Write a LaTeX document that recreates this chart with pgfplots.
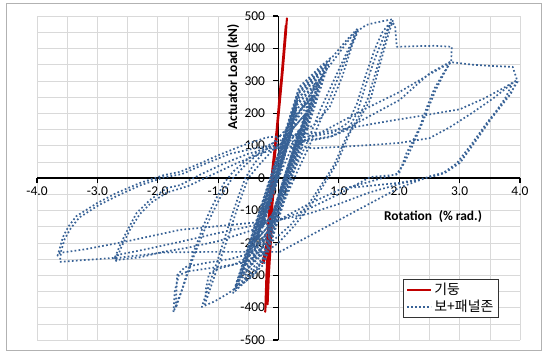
\documentclass[border=0pt]{standalone}
\usepackage{fontspec}
\setmainfont{Carlito}
\newfontfamily\kr{Noto Sans CJK KR}
\usepackage{pgfplots}
\pgfplotsset{compat=1.18}
\definecolor{bluez}{RGB}{56,98,150}
\definecolor{redz}{RGB}{192,0,0}
\definecolor{gridz}{RGB}{217,217,217}
\begin{document}
\begin{tikzpicture}
\useasboundingbox (0bp,0bp) rectangle (543bp,353bp);
\draw[black!30, line width=0.8bp] (6bp,3bp) rectangle (541bp,350bp);
\begin{axis}[
  at={(37bp,13bp)}, anchor=south west,
  scale only axis, width=483bp, height=324bp,
  xmin=-4, xmax=4, ymin=-500, ymax=500,
  axis lines=middle,
  axis line style={line width=1.6bp, -},
  hide obscured x ticks=false, hide obscured y ticks=false,
  xtick={-4,-3,-2,-1,0,1,2,3,4},
  xticklabels={-4.0,-3.0,-2.0,-1.0,0.0,1.0,2.0,3.0,4.0},
  ytick={-500,-400,-300,-200,-100,0,100,200,300,400,500},
  yticklabels={-500,-400,-300,-200,-100,0,100,200,300,400,500},
  minor x tick num=1, minor y tick num=1,
  grid=both, grid style={gridz, line width=0.6bp},
  major tick length=5bp, minor tick length=0pt,
  tick align=outside, tick style={black, line width=1.2bp},
  ticklabel style={font=\fontsize{13.5}{13.5}\selectfont},
  yticklabel style={xshift=-5bp},
  legend style={at={(0.758,0.188)}, anchor=north west, draw=black!80, line width=0.6bp,
    font=\kr\fontsize{14}{17}\selectfont, inner xsep=3bp, inner ysep=2bp, row sep=0bp},
  legend cell align=left,
  legend image code/.code={\draw[#1] (0bp,0bp) -- (24bp,0bp);},
]
% column (red)
\addplot[color=redz, line width=2bp, line join=round, mark=none] coordinates {
(-0.10,0) (-0.05,100) (0.00,200) (-0.03,150) (-0.08,50) (-0.14,-50) (-0.17,-150) (-0.14,-100) (-0.10,0)
(-0.04,100) (0.02,250) (0.06,330) (0.03,280) (-0.03,150) (-0.10,30) (-0.15,-80) (-0.19,-200) (-0.24,-260) (-0.27,-262) (-0.21,-220) (-0.15,-120) (-0.12,-20)
(-0.06,90) (0.02,250) (0.08,370) (0.12,450) (0.14,493) (0.12,440) (0.07,330) (0.01,210) (-0.06,80) (-0.12,-30) (-0.16,-150) (-0.20,-300) (-0.22,-413) (-0.20,-360) (-0.16,-220) (-0.13,-100) (-0.10,0)
(-0.04,120) (0.03,270) (0.08,380) (0.12,470) (0.10,420) (0.05,300) (-0.02,160) (-0.09,30) (-0.14,-90) (-0.18,-250) (-0.18,-390) (-0.16,-300) (-0.12,-180) (-0.10,-80) (-0.06,0)
};
\addlegendentry{기둥}
% beam + panel zone (blue dotted)
\addplot[color=bluez, line width=1.7bp, line cap=butt, line join=round, dash pattern=on 1.7bp off 2.3bp, mark=none] coordinates {
(0,0) (0.35,150)
(0.09,0) (-0.10,-112) (-0.27,-150) (-0.01,0) (0.18,112) (0.35,150)
(0.09,0) (-0.10,-112) (-0.27,-150) (-0.01,0) (0.229,150) (0.455,200)
(0.11,0) (-0.136,-142) (-0.358,-190) (-0.03,0) (0.229,150) (0.455,200)
(0.11,0) (-0.136,-142) (-0.358,-190) (-0.03,0) (0.257,172) (0.517,230)
(0.12,0) (-0.158,-161) (-0.411,-215) (-0.04,0) (0.273,187) (0.561,250)
(0.13,0) (-0.167,-172) (-0.447,-230) (-0.05,0) (0.27,191) (0.58,255)
(0.14,0) (-0.17,-180) (-0.474,-240) (-0.06,0) (0.292,210) (0.633,280)
(0.15,0) (-0.186,-195) (-0.518,-260) (-0.07,0) (0.375,217) (0.66,290)
(0.16,0) (-0.163,-187) (-0.431,-250) (0.00,0) (0.308,225) (0.677,300)
(0.16,0) (-0.189,-202) (-0.546,-270) (-0.08,0) (0.311,232) (0.704,310)
(0.17,0) (-0.199,-214) (-0.581,-285) (-0.09,0) (0.314,240) (0.652,320)
(0.10,0) (-0.301,-232) (-0.634,-310) (-0.10,0) (0.327,247) (0.749,330)
(0.18,0) (-0.208,-225) (-0.617,-300) (-0.10,0) (0.326,259) (0.795,345)
(0.20,0) (-0.214,-240) (-0.672,-320) (-0.12,0) (0.338,277) (0.858,370)
(0.22,0) (-0.239,-266) (-0.752,-355) (-0.14,0) (0.356,270) (0.811,360)
(0.19,0) (-0.25,-255) (-0.696,-340) (-0.11,0) (0.325,264) (0.817,352)
(0.21,0) (-0.224,-252) (-0.709,-336) (-0.13,0) (0.34,280) (0.70,345) (0.90,375) (1.13,426) (1.32,463)
(1.02,343) (0.69,210) (0.47,108) (0.24,15) (0.05,-90) (-0.13,-200) (-0.40,-300) (-0.85,-358) (-1.05,-380) (-1.27,-398)
(-1.15,-330) (-1.02,-260) (-0.90,-190) (-0.78,-120) (-0.66,-55) (-0.55,0)
(-0.40,45) (-0.20,90) (0.00,125) (0.20,165) (0.40,220) (0.60,280) (0.80,335) (1.00,385) (1.18,430) (1.30,455)
(1.10,360) (0.90,270) (0.70,180) (0.50,95) (0.30,15)
(0.10,-70) (-0.10,-140) (-0.30,-200) (-0.50,-245) (-0.75,-268) (-1.00,-280) (-1.15,-295) (-1.20,-340) (-1.22,-390)
(-1.10,-325) (-0.97,-255) (-0.84,-185) (-0.72,-115) (-0.60,-50) (-0.50,0)
(-0.30,45) (-0.10,85) (0.10,115) (0.35,140) (0.60,165) (0.85,220) (1.05,310) (1.22,410) (1.32,455) (1.45,472) (1.57,478) (1.75,485) (1.90,490)
(1.80,430) (1.65,330) (1.52,241) (1.35,185) (1.18,139) (0.97,46) (0.80,-6)
(0.55,-80) (0.25,-150) (0.00,-200) (-0.30,-240) (-0.60,-262) (-0.90,-272) (-1.20,-280) (-1.50,-288) (-1.65,-300) (-1.72,-350) (-1.74,-414)
(-1.60,-345) (-1.41,-232) (-1.25,-150) (-1.13,-99) (-1.02,-59) (-0.90,-15) (-0.75,20)
(-0.50,60) (-0.25,95) (0.00,115) (0.30,125) (0.60,130) (0.90,140) (1.15,170) (1.30,230) (1.45,320) (1.60,400) (1.72,450) (1.85,480)
(1.75,415) (1.60,320) (1.47,240) (1.30,180) (1.12,125) (0.92,40) (0.75,-10)
(0.50,-80) (0.20,-145) (-0.10,-195) (-0.40,-230) (-0.80,-250) (-1.20,-262) (-1.55,-275) (-1.68,-300) (-1.70,-401)
(-1.55,-320) (-1.40,-240) (-1.25,-170) (-1.10,-110) (-0.95,-55) (-0.80,-10)
(-0.55,40) (-0.30,80) (0.00,105) (0.30,115) (0.60,120) (0.90,130) (1.15,150) (1.30,200) (1.45,290) (1.60,370) (1.75,440) (1.88,482) (1.93,470) (1.96,405) (2.30,407) (2.60,408) (2.87,405) (2.86,360)
(2.72,320) (2.58,275) (2.45,215) (2.34,157) (2.20,105) (2.12,77) (2.00,15) (1.50,-12) (1.00,-37) (0.50,-80) (0.00,-130)
(-0.50,-150) (-1.00,-170) (-1.63,-197) (-2.20,-220) (-2.68,-238) (-2.72,-250)
(-2.62,-205) (-2.50,-160) (-2.35,-108) (-2.13,-68) (-1.85,-31) (-1.63,-22) (-1.30,10) (-0.90,45) (-0.50,75) (-0.20,90) (0.24,96)
(0.80,150) (1.40,210) (2.00,265) (2.50,320) (2.84,355)
(2.72,315) (2.60,270) (2.48,215) (2.36,160) (2.22,100) (2.08,45) (1.95,10) (1.52,3) (1.00,-50) (0.50,-95) (0.02,-130)
(-0.50,-165) (-1.00,-195) (-1.50,-215) (-1.91,-228) (-2.30,-245) (-2.68,-253) (-2.70,-258)
(-2.60,-212) (-2.46,-160) (-2.30,-112) (-2.10,-75) (-1.85,-45) (-1.50,-25) (-1.10,10) (-0.70,45) (-0.30,75) (0.20,105) (0.85,126)
(1.40,180) (2.00,240) (2.51,324) (2.84,358) (3.20,350) (3.50,346) (3.88,343) (3.96,297)
(3.80,250) (3.65,215) (3.50,179) (3.25,110) (3.00,46) (2.75,15) (2.50,3) (2.07,-15) (1.50,-45) (1.00,-80) (0.50,-110) (0.00,-130)
(-0.80,-145) (-1.63,-160) (-2.50,-195) (-3.20,-220) (-3.62,-231) (-3.66,-240)
(-3.62,-215) (-3.57,-182) (-3.48,-150) (-3.35,-118) (-3.00,-77) (-2.68,-46) (-2.29,-15) (-1.90,9) (-1.63,19) (-1.30,45) (-1.00,70) (-0.60,100) (-0.20,125) (0.64,139)
(1.20,155) (1.80,175) (2.40,193) (3.00,212) (3.40,245) (3.70,275) (3.95,302)
(3.85,260) (3.70,225) (3.52,182) (3.27,115) (3.02,50) (2.77,18) (2.52,6) (2.00,-30) (1.50,-80) (1.00,-130) (0.50,-180) (0.02,-228)
(-0.60,-228) (-1.20,-228) (-1.91,-230) (-2.60,-245) (-3.20,-253) (-3.62,-259)
(-3.60,-225) (-3.54,-188) (-3.44,-155) (-3.30,-122) (-2.98,-84) (-2.65,-53) (-2.28,-22) (-1.90,2) (-1.60,12) (-1.20,45) (-0.80,75) (-0.30,95) (0.10,98) (0.60,92)
(1.20,98) (2.00,108) (2.50,123) (2.84,157) (3.20,200) (3.55,245) (3.88,293)
(3.75,245) (3.60,205) (3.45,170) (3.20,105) (2.95,45) (2.70,12) (2.45,0) (2.00,-15) (1.20,-30)
};
\addlegendentry{보+패널존}
\node[font=\bfseries\fontsize{13.5}{13.5}\selectfont] at (axis cs:2.56,-120) {Rotation\enspace(\% rad.)};
\node[font=\bfseries\fontsize{13.5}{13.5}\selectfont, rotate=90] at (axis cs:-0.75,312) {Actuator Load (kN)};
\end{axis}
\end{tikzpicture}
\end{document}
